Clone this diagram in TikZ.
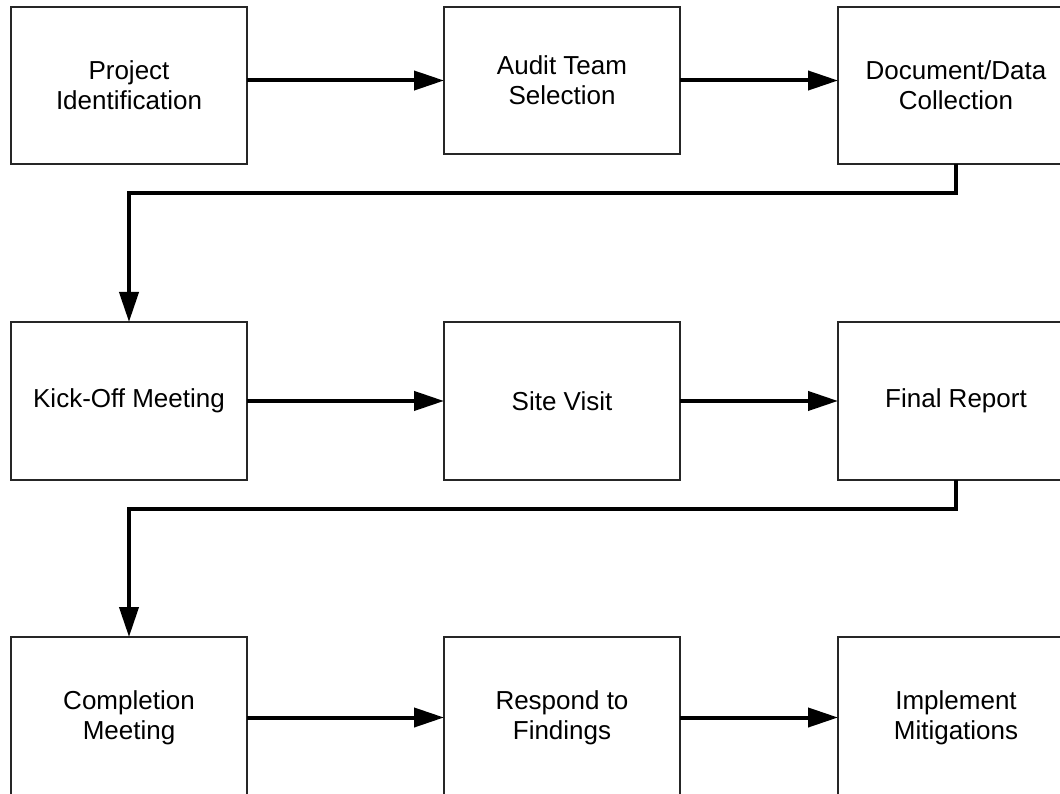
\documentclass[tikz,border=0pt]{standalone}
\usepackage{fontspec}
\setmainfont{Liberation Sans}
\usetikzlibrary{arrows.meta}
\begin{document}
\begin{tikzpicture}[x=1pt,y=-1pt,
  stepbox/.style={draw=black!85, line width=1.2pt, anchor=north west,
    minimum width=236pt, minimum height=157pt, inner sep=0pt, outer sep=0pt,
    align=center, font=\fontsize{26}{30}\selectfont},
  arr/.style={line width=4pt, -{Triangle[length=30pt,width=19pt]}},
  conn/.style={line width=4pt}]
\useasboundingbox (0,0) rectangle (1060,794);
\clip (0,0) rectangle (1060,794);
% row 1
\node[stepbox] (b1) at (11,7) {Project\\Identification};
\node[stepbox, minimum height=147pt] (b2) at (444,7) {Audit Team\\Selection};
\node[stepbox] (b3) at (838,7) {Document/Data\\Collection};
% row 2
\node[stepbox, minimum height=158pt] (b4) at (11,322) {Kick-Off Meeting};
\node[stepbox, minimum height=158pt] (b5) at (444,322) {Site Visit};
\node[stepbox, minimum height=158pt] (b6) at (838,322) {Final Report};
% row 3
\node[stepbox, minimum height=161pt] (b7) at (11,637) {Completion\\Meeting};
\node[stepbox, minimum height=161pt] (b8) at (444,637) {Respond to\\Findings};
\node[stepbox, minimum height=161pt] (b9) at (838,637) {Implement\\Mitigations};
% connectors
\draw[arr] (b2.west -| b1.east) -- (b2.west);
\draw[arr] (b2.east) -- (b2.east -| b3.west);
\draw[arr] (b3.south) -- ++(0,29) -| (b4.north);
\draw[arr] (b4.east) -- (b5.west);
\draw[arr] (b5.east) -- (b6.west);
\draw[arr] (b6.south) -- ++(0,29) -| (b7.north);
\draw[arr] (b7.east) -- (b8.west);
\draw[arr] (b8.east) -- (b9.west);
\end{tikzpicture}
\end{document}
